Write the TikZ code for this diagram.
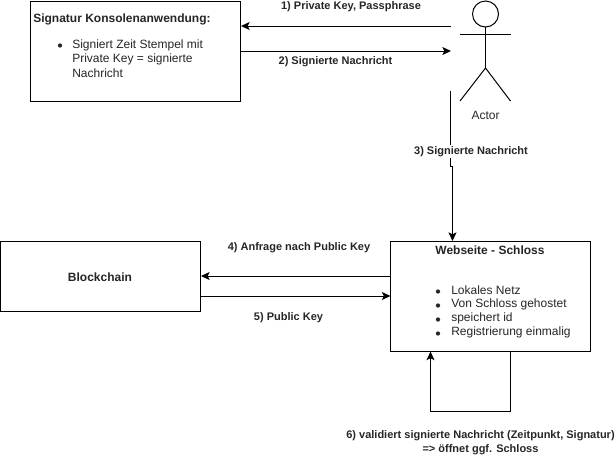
\documentclass[tikz,border=0pt]{standalone}
\usepackage{fontspec}
\setmainfont{Liberation Sans}
\usetikzlibrary{arrows.meta}
\tikzset{
  box/.style={draw=black,line width=0.75pt,fill=white,inner sep=0,outer sep=0,anchor=north west},
  conn/.style={draw=black,line width=0.75pt,-{Stealth[length=6.5pt,width=6pt,inset=1.5pt]}},
  plain/.style={draw=black,line width=0.75pt},
  lbl/.style={font=\fontsize{8.25pt}{10pt}\selectfont\bfseries,text=black!85,inner sep=0,align=center},
  txt/.style={font=\fontsize{9pt}{11.25pt}\selectfont,text=black!85,inner sep=0,align=left,anchor=west},
  dot/.style={circle,fill=black!85,inner sep=0,minimum size=3.2pt}
}
\begin{document}
\begin{tikzpicture}[x=0.75pt,y=-0.75pt]
\useasboundingbox (0,0) rectangle (616,455);
% boxes
\node[box,minimum width=157.5pt,minimum height=75pt] (sig) at (30.5,1) {};
\node[box,minimum width=150pt,minimum height=52.5pt] (chain) at (0.5,241.5) {};
\node[box,minimum width=150pt,minimum height=82.5pt] (web) at (390.5,241.5) {};
% box text
\node[txt,font=\fontsize{9pt}{11.25pt}\selectfont\bfseries] (sigt) at (33,19) {Signatur Konsolenanwendung:};
\node[dot] (d1) at (60,45.5) {};
\node[txt] (sig1) at (72,45) {Signiert Zeit Stempel mit};
\node[txt] (sig2) at (72,59.5) {Private Key = signierte};
\node[txt] (sig3) at (72,73) {Nachricht};
\node[lbl,font=\fontsize{9pt}{11pt}\selectfont\bfseries] (chaint) at (100,277) {Blockchain};
\node[lbl,font=\fontsize{9pt}{11pt}\selectfont\bfseries] (webt) at (490,250) {Webseite - Schloss};
\node[dot] (d2) at (438,291.5) {};
\node[dot] (d3) at (438,305.5) {};
\node[dot] (d4) at (438,319.5) {};
\node[dot] (d5) at (438,333.5) {};
\node[txt] (w1) at (451,290.5) {Lokales Netz};
\node[txt] (w2) at (451,304) {Von Schloss gehostet};
\node[txt] (w3) at (451,318) {speichert id};
\node[txt] (w4) at (451,332) {Registrierung einmalig};
% actor
\node[draw=black,line width=0.75pt,circle,minimum size=19.5pt,inner sep=0,outer sep=0] (head) at (485.5,14) {};
\coordinate (shl) at (460,34.5);
\coordinate (shr) at (510.5,34.5);
\coordinate (hip) at (485.5,68);
\coordinate (fl) at (460,101);
\coordinate (fr) at (510.5,101);
\draw[plain] (head.south) -- (hip);
\draw[plain] (shl) -- (shr);
\draw[plain] (fl) -- (hip) -- (fr);
\node[txt,anchor=center] (actor) at (485.5,115) {Actor};
% free ends
\coordinate (a1) at (451,26);
\coordinate (s1) at (241,26);
\coordinate (s2) at (240.5,51);
\coordinate (a2) at (451,51);
\coordinate (a3) at (450.5,91);
\coordinate (k1) at (450.5,166);
\coordinate (k2) at (452.5,166);
\coordinate (w3t) at (452.5,241);
\coordinate (wl1) at (390.5,276);
\coordinate (cr1) at (201,276);
\coordinate (cr2) at (200.5,296);
\coordinate (wl2) at (390.5,296);
\coordinate (wb1) at (510.5,351);
\coordinate (wb2) at (510.5,411);
\coordinate (wb3) at (430.5,411);
\coordinate (wb4) at (430.5,351.5);
% connectors
\draw[conn] (a1) -- (s1);
\draw[conn] (s2) -- (a2);
\draw[conn] (a3) -- (k1) -- (k2) -- (w3t);
\draw[conn] (wl1) -- (cr1);
\draw[conn] (cr2) -- (wl2);
\draw[conn] (wb1) -- (wb2) -- (wb3) -- (wb4);
% labels
\node[lbl] (l1) at (351,7) {1) Private Key, Passphrase};
\node[lbl] (l2) at (335.5,62) {2) Signierte Nachricht};
\node[lbl,fill=white,inner sep=1pt] (l3) at (471,151.5) {3) Signierte Nachricht};
\node[lbl] (l4) at (299,247.5) {4) Anfrage nach Public Key};
\node[lbl] (l5) at (288.5,317.5) {5) Public Key};
\node[lbl] (l6) at (480.5,442.5) {6) validiert signierte Nachricht (Zeitpunkt, Signatur)\\=> öffnet ggf. Schloss};
\end{tikzpicture}
\end{document}
